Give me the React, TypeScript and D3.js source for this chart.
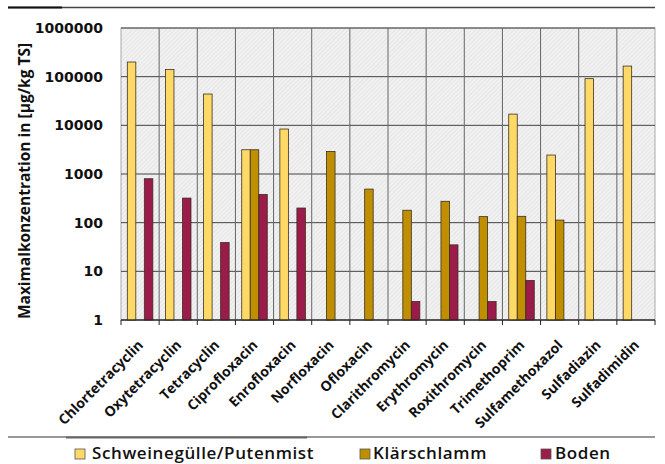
import React from "react";
import * as d3 from "d3";

const categories = [
  "Chlortetracyclin", "Oxytetracyclin", "Tetracyclin", "Ciprofloxacin", "Enrofloxacin",
  "Norfloxacin", "Ofloxacin", "Clarithromycin", "Erythromycin", "Roxithromycin",
  "Trimethoprim", "Sulfamethoxazol", "Sulfadiazin", "Sulfadimidin",
];
const seriesNames = ["Schweinegülle/Putenmist", "Klärschlamm", "Boden"];
const schweine: (number | null)[] = [200000, 140000, 44000, 3150, 8400, null, null, null, null, null, 17000, 2450, 91000, 165000];
const klaer: (number | null)[] = [null, null, null, 3150, null, 2900, 490, 180, 275, 133, 135, 113, null, null];
const boden: (number | null)[] = [800, 320, 39, 380, 200, null, null, 2.4, 35, 2.4, 6.5, null, null, null];
const yTicks = [1, 10, 100, 1000, 10000, 100000, 1000000];
const colors = ["#FFD966", "#BF8F00", "#9B1B4B"];

export default function App() {
  const W = 665, H = 464;
  const left = 121, right = 655, top = 28, bottom = 320;
  const x0 = d3.scaleBand<string>().domain(categories).range([left, right]).paddingInner(0).paddingOuter(0);
  const x1 = d3.scaleBand<string>().domain(seriesNames).range([0, x0.bandwidth()]).paddingInner(0).paddingOuter(0.74);
  const y = d3.scaleLog().domain([1, 1000000]).range([bottom, top]);
  const series = [schweine, klaer, boden];
  const boundaries = d3.range(categories.length + 1).map((i) => left + i * x0.bandwidth());

  return (
    <svg width={W} height={H} style={{ position: "absolute", left: 0, top: 0, background: "#fff" }}>
      <defs>
        <pattern id="hatch" width="3" height="3" patternUnits="userSpaceOnUse" patternTransform="rotate(45)">
          <rect width="3" height="3" fill="#f1f1f1" />
          <line x1="0" y1="0" x2="0" y2="3" stroke="#dcdcdc" strokeWidth="1" />
        </pattern>
      </defs>
      {/* top rule */}
      <line x1={8} x2={655} y1={7.5} y2={7.5} stroke="#444" strokeWidth={1.5} />
      <line x1={8} x2={62} y1={7.5} y2={7.5} stroke="#111" strokeWidth={2} />
      {/* plot background */}
      <rect x={left} y={top} width={right - left} height={bottom - top} fill="url(#hatch)" stroke="#aaa" strokeWidth={1} />
      {/* horizontal grid */}
      {yTicks.map((t) => (
        <line key={"h" + t} x1={left} x2={right} y1={y(t)} y2={y(t)} stroke="#444" strokeWidth={1} />
      ))}
      {/* vertical grid */}
      {boundaries.slice(1, -1).map((bx, i) => (
        <line key={"v" + i} x1={bx} x2={bx} y1={top} y2={bottom} stroke="#666" strokeWidth={1} />
      ))}
      {/* bars */}
      {series.map((vals, si) =>
        vals.map((v, ci) =>
          v == null ? null : (
            <rect
              key={si + "-" + ci}
              x={(x0(categories[ci]) as number) + (x1(seriesNames[si]) as number)}
              y={y(v)}
              width={x1.bandwidth()}
              height={bottom - y(v)}
              fill={colors[si]}
              stroke="#3a3020"
              strokeWidth={0.8}
            />
          )
        )
      )}
      {/* x axis */}
      <line x1={left} x2={right} y1={bottom} y2={bottom} stroke="#222" strokeWidth={1.2} />
      {boundaries.map((bx, i) => (
        <line key={"t" + i} x1={bx} x2={bx} y1={bottom} y2={bottom + 5} stroke="#222" strokeWidth={1} />
      ))}
      {/* y tick labels */}
      {yTicks.map((t) => (
        <text key={"yl" + t} x={103} y={y(t)} dy="0.35em" textAnchor="end"
          fontFamily="DejaVu Sans" fontWeight="bold" fontSize={14} fill="#111">
          {String(t)}
        </text>
      ))}
      {/* y axis title */}
      <text transform={`translate(30, ${(top + bottom) / 2 + 7}) rotate(-90)`} textAnchor="middle"
        fontFamily="Open Sans" fontWeight={700} fontSize={15.5} fill="#111">
        Maximalkonzentration in [µg/kg TS]
      </text>
      {/* category labels */}
      {categories.map((c) => {
        const cx = (x0(c) as number) + x0.bandwidth() / 2 + 4;
        const cy = 346;
        return (
          <text key={"c" + c} transform={`translate(${cx}, ${cy}) rotate(-45)`} textAnchor="end"
            fontFamily="Open Sans" fontWeight={700} fontSize={14} fill="#111">
            {c}
          </text>
        );
      })}
      {/* bottom rule */}
      <line x1={8} x2={655} y1={437} y2={437} stroke="#333" strokeWidth={1.2} />
      <line x1={66} x2={307} y1={437.5} y2={437.5} stroke="#666" strokeWidth={2} />
      {/* legend */}
      {[
        { x: 75, tx: 92 },
        { x: 360, tx: 373 },
        { x: 541, tx: 555 },
      ].map((p, i) => (
        <g key={"lg" + i}>
          <rect x={p.x} y={449} width={10} height={10} fill={colors[i]} stroke="#555" strokeWidth={0.8} />
          <text x={p.tx} y={459} fontFamily="Open Sans" fontWeight={600} fontSize={17} letterSpacing={0.6} fill="#111">
            {seriesNames[i]}
          </text>
        </g>
      ))}
    </svg>
  );
}
